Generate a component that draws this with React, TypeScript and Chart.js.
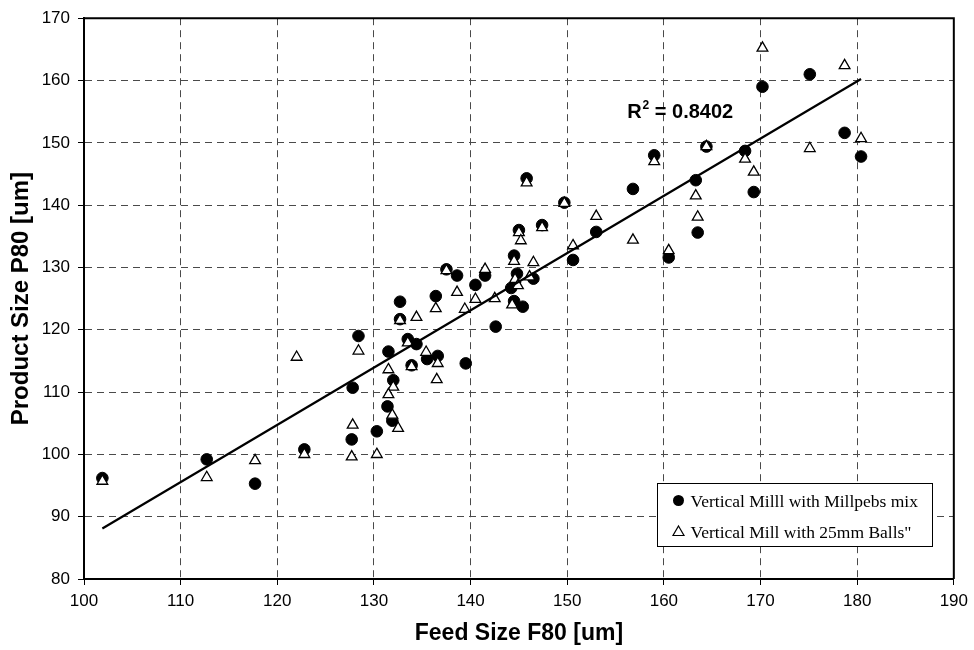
import React, { useEffect, useRef } from 'react';
import { Chart, registerables } from 'chart.js';

Chart.register(...registerables);

// Vertical Mill with Millpebs mix (filled circles)
const millpebsX = [101.9, 112.7, 117.7, 122.8, 128.4, 127.8, 127.7, 130.3, 132.7, 132.7, 133.5, 134.4, 131.5, 133.9, 132.0, 131.4, 131.9, 135.5, 136.6, 139.5, 136.4, 137.5, 138.6, 141.5, 140.5, 142.6, 144.2, 144.8, 146.5, 144.5, 145.4, 144.5, 145.0, 145.8, 147.4, 149.7, 150.6, 153.0, 156.8, 159.0, 160.5, 163.3, 163.5, 164.4, 168.4, 169.3, 170.2, 175.1, 178.7, 180.4];
const millpebsY = [96.2, 99.2, 95.3, 100.8, 119.0, 110.7, 102.4, 103.7, 124.5, 121.7, 118.5, 117.7, 116.5, 114.3, 111.9, 107.7, 105.4, 115.3, 115.8, 114.6, 125.4, 129.7, 128.7, 128.7, 127.2, 120.5, 126.7, 129.0, 128.2, 124.6, 123.7, 131.9, 136.0, 144.3, 136.8, 140.4, 131.2, 135.7, 142.6, 148.0, 131.6, 144.0, 135.6, 149.4, 148.7, 142.1, 159.0, 161.0, 151.6, 147.8];

// Vertical Mill with 25mm Balls (open triangles)
const ballsX = [101.9, 112.7, 117.7, 122.0, 122.8, 128.4, 127.8, 127.7, 130.3, 132.7, 134.4, 133.5, 135.4, 131.5, 133.9, 132.0, 131.5, 131.9, 132.5, 136.6, 136.5, 136.4, 137.5, 138.6, 139.4, 140.5, 141.5, 142.5, 144.3, 144.6, 144.9, 146.1, 144.5, 146.5, 145.0, 145.2, 145.8, 147.4, 149.7, 150.6, 153.0, 156.8, 159.0, 160.5, 163.3, 163.5, 164.4, 168.4, 169.3, 170.2, 175.1, 178.7, 180.4];
const ballsY = [95.7, 96.3, 99.0, 115.6, 100.0, 116.6, 104.7, 99.6, 100.0, 121.5, 122.0, 117.9, 116.4, 113.6, 114.1, 110.8, 109.6, 106.3, 104.2, 114.6, 112.0, 123.4, 129.5, 126.0, 123.3, 124.9, 129.7, 125.0, 124.0, 128.1, 127.1, 128.5, 131.0, 130.8, 135.6, 134.3, 143.6, 136.4, 140.3, 133.5, 138.2, 134.4, 147.0, 132.7, 141.5, 138.1, 149.4, 147.4, 145.3, 165.2, 149.1, 162.4, 150.7];

// Linear trend line end points
const trendX = [101.9, 180.4];
const trendY = [88.1, 160.25];

const seriesLabels = ['Vertical Milll with Millpebs mix', 'Vertical Mill with 25mm Balls"'];
const xAxisTitle = 'Feed Size F80 [um]';
const yAxisTitle = 'Product Size P80 [um]';
const rSquaredText = ['R', '2', ' = 0.8402'];

const toPoints = (xs: number[], ys: number[]) => xs.map((x, i) => ({ x, y: ys[i] }));

const framePlugin = {
  id: 'frameAndAnnotations',
  afterDraw(chart: any) {
    const { ctx, chartArea, scales } = chart;
    const { left, top, right, bottom } = chartArea;
    ctx.save();
    // frame (top / right)
    ctx.strokeStyle = '#000';
    ctx.lineWidth = 2;
    ctx.beginPath();
    ctx.moveTo(left, top);
    ctx.lineTo(right, top);
    ctx.lineTo(right, bottom);
    ctx.stroke();

    // R^2 label
    const rx = scales.x.getPixelForValue(156.2);
    const ry = scales.y.getPixelForValue(154.0);
    ctx.fillStyle = '#000';
    ctx.textBaseline = 'alphabetic';
    ctx.textAlign = 'left';
    ctx.font = 'bold 20px "Liberation Sans", Arial, sans-serif';
    ctx.fillText(rSquaredText[0], rx, ry);
    let cx = rx + ctx.measureText(rSquaredText[0]).width + 1;
    ctx.font = 'bold 12px "Liberation Sans", Arial, sans-serif';
    ctx.fillText(rSquaredText[1], cx, ry - 9);
    cx += ctx.measureText(rSquaredText[1]).width;
    ctx.font = 'bold 20px "Liberation Sans", Arial, sans-serif';
    ctx.fillText(rSquaredText[2], cx, ry);

    // Legend box
    const bw = 275;
    const bh = 63;
    const bx = Math.round(right - 22 - bw) + 0.5;
    const by = Math.round(bottom - 33 - bh) + 0.5;
    ctx.fillStyle = '#fff';
    ctx.fillRect(bx, by, bw, bh);
    ctx.strokeStyle = '#000';
    ctx.lineWidth = 1;
    ctx.strokeRect(bx, by, bw, bh);

    const mx = bx + 21;
    const row1 = by + 17;
    const row2 = by + 48;
    ctx.fillStyle = '#000';
    ctx.beginPath();
    ctx.arc(mx, row1, 5.5, 0, Math.PI * 2);
    ctx.fill();

    ctx.beginPath();
    ctx.moveTo(mx, row2 - 5.5);
    ctx.lineTo(mx + 5.5, row2 + 4);
    ctx.lineTo(mx - 5.5, row2 + 4);
    ctx.closePath();
    ctx.lineWidth = 1.2;
    ctx.stroke();

    ctx.font = '17.5px "Liberation Serif", "Times New Roman", serif';
    ctx.fillStyle = '#000';
    ctx.textBaseline = 'alphabetic';
    ctx.fillText(seriesLabels[0], bx + 33, row1 + 6);
    ctx.fillText(seriesLabels[1], bx + 33, row2 + 6);
    ctx.restore();
  },
};

export default function App() {
  const canvasRef = useRef<HTMLCanvasElement | null>(null);

  useEffect(() => {
    if (!canvasRef.current) return;
    const tickFont = { family: '"Liberation Sans", Arial, sans-serif', size: 17 };
    const xTitleFont = { family: '"Liberation Sans", Arial, sans-serif', size: 23, weight: 'bold' as const };
    const yTitleFont = { family: '"Liberation Sans", Arial, sans-serif', size: 24, weight: 'bold' as const };
    const gridCommon = {
      color: '#4a4a4a',
      lineWidth: 1,
      tickLength: 6,
      tickColor: '#000',
      tickWidth: 1,
      tickBorderDash: [],
    };
    const chart = new Chart(canvasRef.current, {
      type: 'scatter',
      data: {
        datasets: [
          {
            type: 'line' as const,
            label: 'trend',
            data: toPoints(trendX, trendY),
            borderColor: '#000',
            borderWidth: 2.2,
            pointRadius: 0,
            fill: false,
            order: 0,
          },
          {
            label: seriesLabels[1],
            data: toPoints(ballsX, ballsY),
            pointStyle: 'triangle',
            pointRadius: 6.2,
            backgroundColor: '#fff',
            borderColor: '#000',
            borderWidth: 1.3,
            order: 1,
          },
          {
            label: seriesLabels[0],
            data: toPoints(millpebsX, millpebsY),
            pointStyle: 'circle',
            pointRadius: 5.8,
            backgroundColor: '#000',
            borderColor: '#000',
            borderWidth: 1,
            order: 2,
          },
        ] as any,
      },
      options: {
        animation: false,
        responsive: false,
        maintainAspectRatio: false,
        layout: { padding: { left: 0, top: 13, right: 16, bottom: 0 } },
        plugins: {
          legend: { display: false },
          tooltip: { enabled: false },
        },
        scales: {
          x: {
            type: 'linear',
            min: 100,
            max: 190,
            ticks: { stepSize: 10, font: tickFont, color: '#000', padding: 6, maxRotation: 0 },
            grid: gridCommon,
            border: { display: true, color: '#000', width: 2, dash: [7, 5] },
            title: { display: true, text: xAxisTitle, font: xTitleFont, color: '#000', padding: { top: 0, bottom: 3 } },
            afterFit: (scale: any) => { scale.height = 71; },
          },
          y: {
            type: 'linear',
            min: 80,
            max: 170,
            ticks: { stepSize: 10, font: tickFont, color: '#000', padding: 8 },
            grid: gridCommon,
            border: { display: true, color: '#000', width: 2, dash: [7, 5] },
            title: { display: true, text: yAxisTitle, font: yTitleFont, color: '#000', padding: { top: 7, bottom: 0 } },
            afterFit: (scale: any) => { scale.width = 84; },
          },
        },
      },
      plugins: [framePlugin],
    });
    return () => chart.destroy();
  }, []);

  return (
    <div style={{ position: 'absolute', left: 0, top: 0, width: 974, height: 650, background: '#fff' }}>
      <canvas ref={canvasRef} width={974} height={650} />
    </div>
  );
}
